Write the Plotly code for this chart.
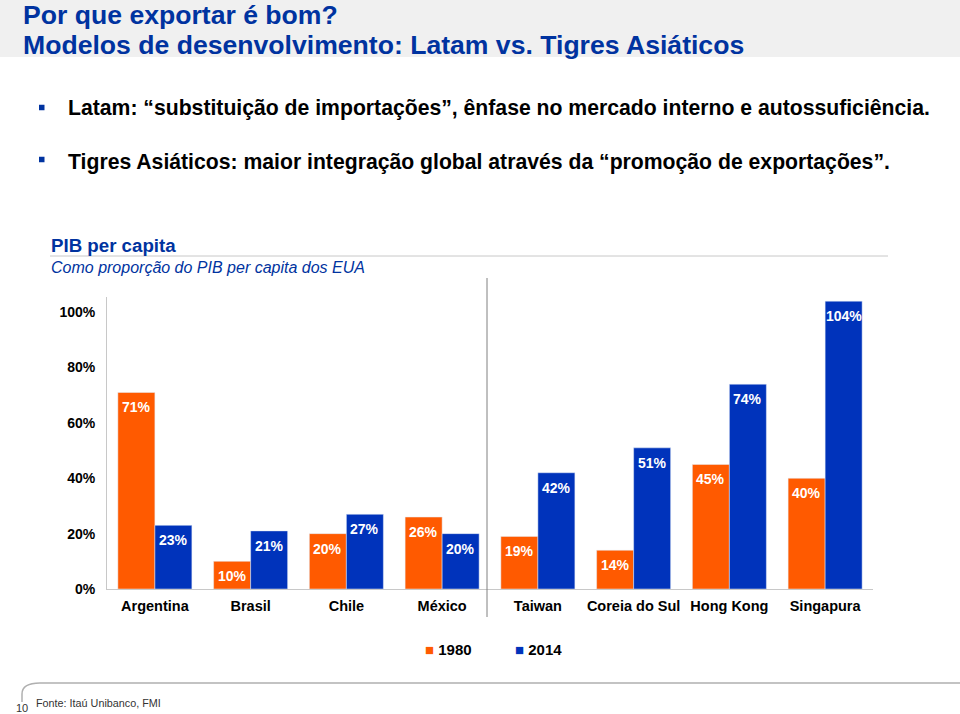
import plotly.graph_objects as go

countries = ["Argentina", "Brasil", "Chile", "México", "Taiwan", "Coreia do Sul", "Hong Kong", "Singapura"]
series_names = ["1980", "2014"]
v1980 = [71, 10, 20, 26, 19, 14, 45, 40]
v2014 = [23, 21, 27, 20, 42, 51, 74, 104]
ytick_vals = [0, 20, 40, 60, 80, 100]
ytick_text = ["0%", "20%", "40%", "60%", "80%", "100%"]

ORANGE = "#FF5A00"
BLUE = "#0033BB"
TBLUE = "#0033A0"
FONT = "Arial, Liberation Sans, sans-serif"

W, H = 960, 714
L, R, T, B = 107, 873, 297, 589
BARW_SHIFT = 18.5


def px(x):
    return (x - L) / (R - L)


def py(y):
    return (B - y) / (B - T)


fig = go.Figure()
for name, vals, col in ((series_names[0], v1980, ORANGE), (series_names[1], v2014, BLUE)):
    fig.add_trace(go.Bar(x=countries, y=vals, name=name, marker_color=col, showlegend=False))

shapes = [
    dict(type="rect", xref="paper", yref="paper", x0=px(0), x1=px(W), y0=py(0), y1=py(57),
         fillcolor="#f0f0f0", line_width=0, layer="below"),
    dict(type="line", xref="paper", yref="paper", x0=px(50), x1=px(888), y0=py(256), y1=py(256),
         line=dict(color="#c8c8c8", width=1)),
    dict(type="line", xref="paper", yref="paper", x0=px(487), x1=px(487), y0=py(278), y1=py(617),
         line=dict(color="#808080", width=1)),
    dict(type="path", xref="paper", yref="paper",
         path=(f"M {px(22)},{py(702)} L {px(22)},{py(694)} Q {px(22)},{py(683)} {px(40)},{py(683)} "
               f"L {px(960)},{py(683)}"),
         line=dict(color="#b0b0b0", width=1.5)),
]

ann = []


def text(x, y, s, size, color="black", bold=False, italic=False, xanchor="left"):
    ann.append(dict(x=px(x), y=py(y), xref="paper", yref="paper", text=s, showarrow=False,
                    xanchor=xanchor, yanchor="middle",
                    font=dict(size=size, color=color, family=FONT,
                              weight="bold" if bold else "normal",
                              style="italic" if italic else "normal")))


# data labels, anchored to the bars through the data axes
for vals, sh in ((v1980, -BARW_SHIFT), (v2014, BARW_SHIFT)):
    for c, v in zip(countries, vals):
        ann.append(dict(x=c, y=v, xref="x", yref="y", text=f"{v}%", showarrow=False,
                        xshift=sh, yshift=-15, xanchor="center", yanchor="middle",
                        font=dict(size=14, color="white", family=FONT, weight="bold")))

text(21, 15, "Por que exportar é bom?", 26.6, TBLUE, bold=True)
text(21, 45, "Modelos de desenvolvimento: Latam vs. Tigres Asiáticos", 26.6, TBLUE, bold=True)
text(66, 108, "Latam: “substituição de importações”, ênfase no mercado interno e autossuficiência.", 21.2, "black", bold=True)
text(66, 162, "Tigres Asiáticos: maior integração global através da “promoção de exportações”.", 21.2, "black", bold=True)
text(49, 245, "PIB per capita", 18.7, TBLUE, bold=True)
text(49, 267, "Como proporção do PIB per capita dos EUA", 16, TBLUE, italic=True)
text(34, 703, "Fonte: Itaú Unibanco, FMI", 10.8, "#333333")
text(14, 708, "10", 11, "#333333")

# legend drawn as text with a coloured square glyph
text(423, 649, f"<span style='color:{ORANGE}'>■</span> {series_names[0]}", 15, "black", bold=True)
text(513, 649, f"<span style='color:{BLUE}'>■</span> {series_names[1]}", 15, "black", bold=True)

for yb in (107.5, 159.5):
    shapes.append(dict(type="rect", xref="paper", yref="paper", x0=px(39), x1=px(44.5),
                       y0=py(yb - 2.75), y1=py(yb + 2.75), fillcolor=TBLUE, line_width=0))

fig.update_layout(
    width=W, height=H,
    margin=dict(l=L, r=W - R, t=T, b=H - B),
    paper_bgcolor="white", plot_bgcolor="white",
    barmode="group", bargap=0.227, bargroupgap=0,
    font=dict(family=FONT, color="black"),
    shapes=shapes, annotations=ann,
    showlegend=False,
    xaxis=dict(showline=True, linecolor="#c8c8c8", linewidth=1, ticks="", showgrid=False,
               ticklabelstandoff=4,
               tickfont=dict(size=14.5, family=FONT, weight="bold", color="black")),
    yaxis=dict(range=[0, 105.5], tickvals=ytick_vals, ticktext=ytick_text, showgrid=False,
               zeroline=False, showline=True, linecolor="#c8c8c8", linewidth=1, ticks="",
               ticklabelstandoff=8,
               tickfont=dict(size=14, family=FONT, weight="bold", color="black")),
)

fig.write_html("out.html", config={"displayModeBar": False},
               post_script="document.body.style.margin='0px';")
